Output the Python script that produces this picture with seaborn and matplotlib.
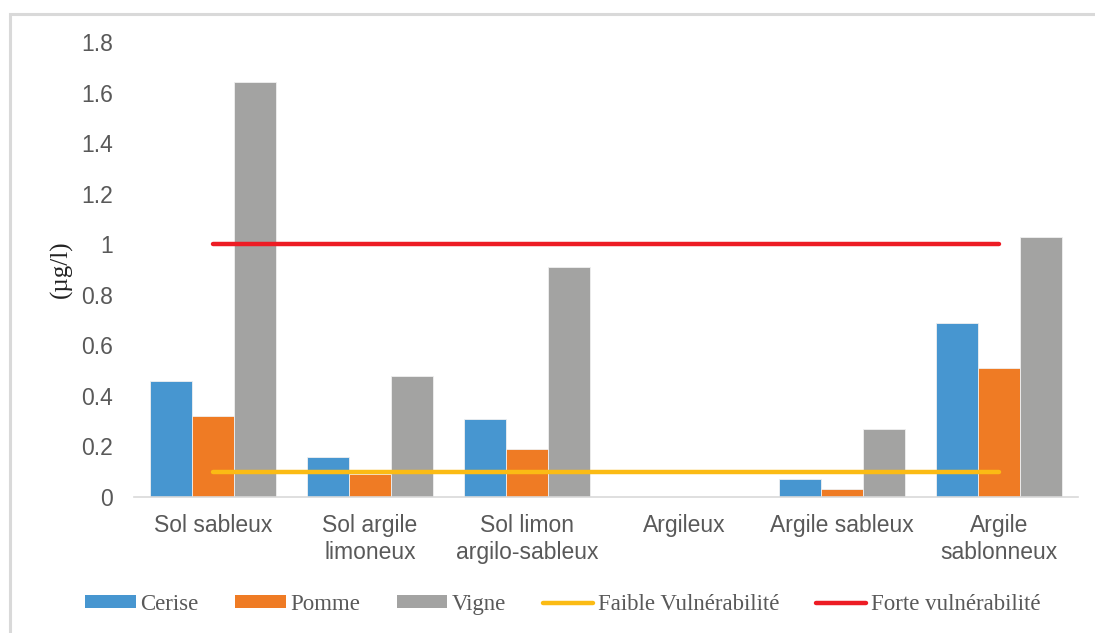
import numpy as np
import pandas as pd
import matplotlib
matplotlib.use("Agg")
import matplotlib.pyplot as plt
import seaborn as sns
from matplotlib.patches import Rectangle, Patch
from matplotlib.lines import Line2D

# Soil types (x categories)
sols = ["Sol sableux", "Sol argile\nlimoneux", "Sol limon\nargilo-sableux",
        "Argileux", "Argile sableux", "Argile\nsablonneux"]

# Concentrations per crop (µg/l)
cerise = [0.46, 0.16, 0.31, 0.0, 0.07, 0.69]
pomme = [0.32, 0.09, 0.19, 0.0, 0.03, 0.51]
vigne = [1.64, 0.48, 0.91, 0.0, 0.27, 1.03]

# Vulnerability thresholds (µg/l)
seuil_faible = 0.1
seuil_forte = 1.0

y_ticks = [0, 0.2, 0.4, 0.6, 0.8, 1, 1.2, 1.4, 1.6, 1.8]
y_tick_labels = ["0", "0.2", "0.4", "0.6", "0.8", "1", "1.2", "1.4", "1.6", "1.8"]

cultures = ["Cerise", "Pomme", "Vigne"]
couleurs = {"Cerise": "#4796D0", "Pomme": "#EF7B24", "Vigne": "#A3A3A2"}
c_faible = "#FBBB14"
c_forte = "#ED1C24"
gris_texte = "#595959"

df = pd.DataFrame({
    "sol": sols * 3,
    "culture": np.repeat(cultures, len(sols)),
    "valeur": cerise + pomme + vigne,
})

sns.set_theme(style="white")
plt.rcParams["font.family"] = ["Liberation Sans", "DejaVu Sans"]

fig = plt.figure(figsize=(10.95, 6.33), dpi=100)
ax = fig.add_axes([0.1224, 0.2148, 0.8621, 0.7188])

sns.barplot(data=df, x="sol", y="valeur", hue="culture", order=sols,
            hue_order=cultures, palette=couleurs, width=0.8, dodge=True,
            edgecolor="#f0f0f0", linewidth=0.6, saturation=1, ax=ax,
            legend=False)

pos = np.arange(len(sols))
ax.plot(pos, [seuil_faible] * len(sols), color=c_faible, lw=3.2,
        solid_capstyle="round", zorder=4)
ax.plot(pos, [seuil_forte] * len(sols), color=c_forte, lw=3.2,
        solid_capstyle="round", zorder=4)

ax.set_xlim(-0.5, len(sols) - 0.5)
ax.set_ylim(0, 1.8)
ax.set_yticks(y_ticks)
ax.set_yticklabels(y_tick_labels)
ax.tick_params(axis="y", length=0, pad=15, labelsize=16.5, labelcolor=gris_texte)
ax.tick_params(axis="x", length=0, pad=12, labelsize=16.5, labelcolor=gris_texte)
for lab in ax.get_xticklabels():
    lab.set_linespacing(1.22)
ax.set_xlabel("")
ax.set_ylabel("(µg/l)", fontsize=18, family=["Liberation Serif", "DejaVu Serif"],
              color="#222222", labelpad=6)

for s in ["top", "right", "left"]:
    ax.spines[s].set_visible(False)
ax.spines["bottom"].set_color("#d9d9d9")
ax.spines["bottom"].set_linewidth(1.2)

handles = [Patch(facecolor=couleurs[c], edgecolor="none") for c in cultures]
handles += [Line2D([], [], color=c_faible, lw=3.2, solid_capstyle="round"),
            Line2D([], [], color=c_forte, lw=3.2, solid_capstyle="round")]
labels = cultures + ["Faible Vulnérabilité", "Forte vulnérabilité"]
leg = fig.legend(handles, labels, loc="center", bbox_to_anchor=(0.514, 0.045),
                 ncol=5, frameon=False, handlelength=2.2, handleheight=0.5,
                 handletextpad=0.2, columnspacing=1.6,
                 prop={"family": ["Liberation Serif", "DejaVu Serif"], "size": 16.5})
for t in leg.get_texts():
    t.set_color(gris_texte)

# Light frame around the chart area
fig.patches.append(Rectangle((10 / 1095, -0.1), 1.2, 1 - 14 / 633 + 0.1,
                             transform=fig.transFigure, fill=False,
                             edgecolor="#d9d9d9", linewidth=2.2, zorder=0))

fig.savefig("out.png", dpi=100, facecolor="white")
